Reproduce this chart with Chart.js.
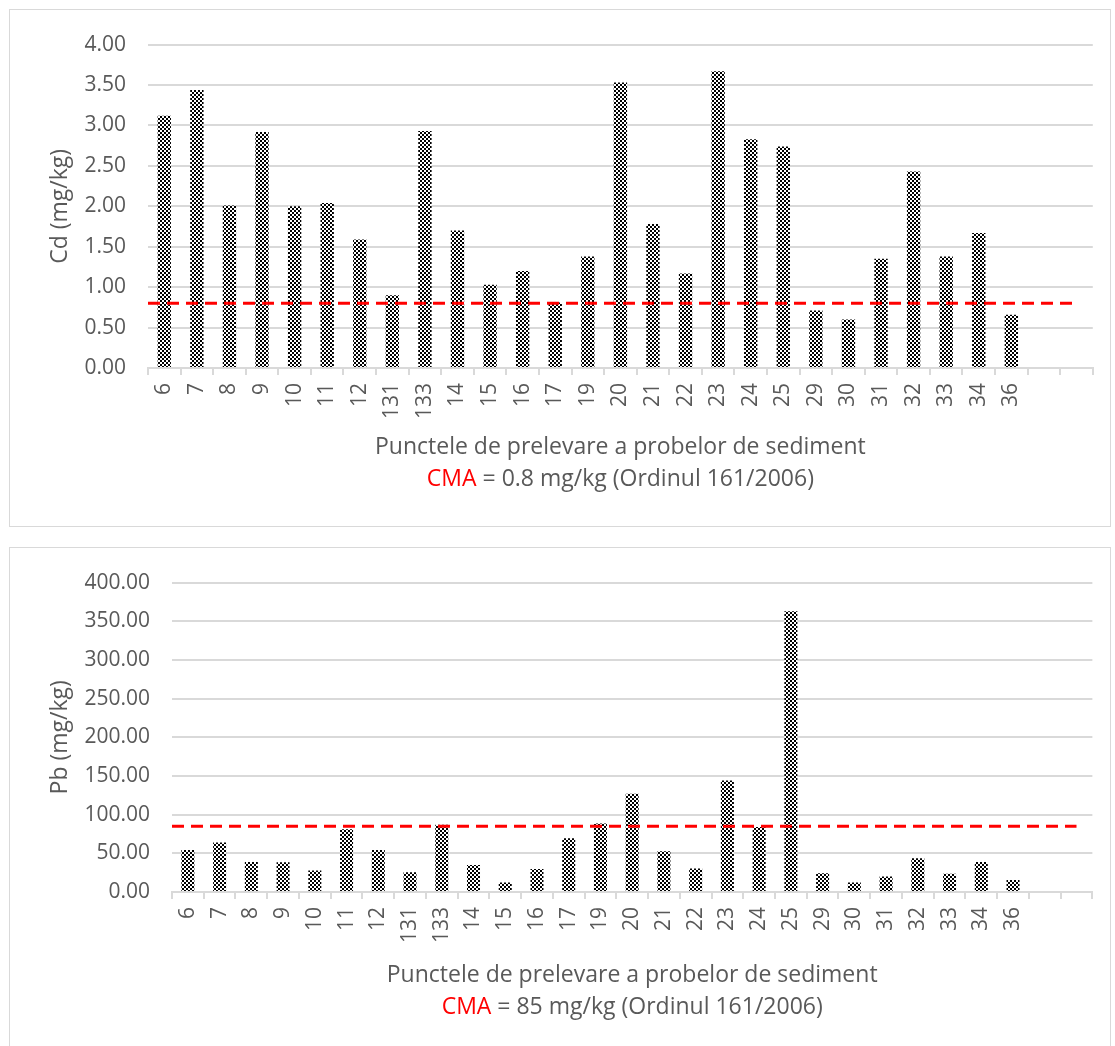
<!DOCTYPE html>
<html>
<head>
<meta charset="utf-8">
<script src="https://cdn.jsdelivr.net/npm/chart.js@4.4.1/dist/chart.umd.min.js"></script>
<style>
  body { margin: 0; background: #fff; font-family: "Open Sans", sans-serif; }
  .frame { position: absolute; left: 9px; width: 1102px; border: 1px solid #d9d9d9; box-sizing: border-box; }
  .frame canvas { position: absolute; left: 0; top: 0; }
  .xtitle { position: absolute; text-align: center; color: #595959; font-size: 23px; line-height: 32px; white-space: nowrap; }
  .red { color: #ff0000; }
</style>
</head>
<body>
<div class="frame" style="top:9px;height:518px">
  <canvas id="cdChart" width="1100" height="516"></canvas>
  <div class="xtitle" id="cdTitle">Punctele de prelevare a probelor de sediment<br><span class="red">CMA</span> = 0.8 mg/kg (Ordinul 161/2006)</div>
</div>
<div class="frame" style="top:547px;height:510px">
  <canvas id="pbChart" width="1100" height="498"></canvas>
  <div class="xtitle" id="pbTitle">Punctele de prelevare a probelor de sediment<br><span class="red">CMA</span> = 85 mg/kg (Ordinul 161/2006)</div>
</div>
<script>
// sampling points (last two slots are empty in the original sheet)
const sites = ['6','7','8','9','10','11','12','131','133','14','15','16','17','19','20','21','22','23','24','25','29','30','31','32','33','34','36','',''];
const cdValues = [3.12,3.44,2.01,2.92,2.00,2.04,1.59,0.90,2.93,1.70,1.03,1.20,0.81,1.38,3.53,1.78,1.17,3.67,2.83,2.74,0.71,0.60,1.35,2.43,1.38,1.67,0.66];
const pbValues = [54.3,63.9,38.7,38.3,27.8,81.2,54.3,25.6,87.1,34.9,12.2,29.8,69.5,88.4,127.1,52.6,30.3,144.0,84.0,362.9,24.4,12.2,20.2,43.7,23.6,38.7,15.5];
const cmaCd = 0.8;
const cmaPb = 85;

Chart.defaults.font.family = '"Open Sans", sans-serif';
Chart.defaults.color = '#595959';

// dashed CMA limit: from the start of the axis to the centre of the last slot
const cmaLine = {
    id: 'cmaLine',
    afterDatasetsDraw(chart, args, opts){
        let {ctx, chartArea, scales} = chart;
        let y = scales.y.getPixelForValue(opts.value);
        let xEnd = scales.x.getPixelForValue(sites.length - 1);
        ctx.save();
        ctx.beginPath();
        ctx.rect(chartArea.left, chartArea.top, chartArea.right - chartArea.left, chartArea.bottom - chartArea.top);
        ctx.clip();
        ctx.strokeStyle = '#ff0000';
        ctx.lineWidth = 3;
        ctx.setLineDash([12,7]);
        ctx.beginPath();
        ctx.moveTo(chartArea.left, y);
        ctx.lineTo(xEnd, y);
        ctx.stroke();
        ctx.restore();
    }
};

function checker(){
    let c = document.createElement('canvas');
    c.width = 4; c.height = 4;
    let g = c.getContext('2d');
    g.fillStyle = '#fff';
    g.fillRect(0,0,4,4);
    g.fillStyle = '#000';
    g.fillRect(0,0,2,2);
    g.fillRect(2,2,2,2);
    return g.createPattern(c,'repeat');
}

function makeChart(id, values, cma, yMax, yStep, yLabel, yWidth, xHeight, padTop){
    return new Chart(document.getElementById(id), {
        type: 'bar',
        data: {
            labels: sites,
            datasets: [{
                data: values,
                backgroundColor: checker(),
                borderWidth: 0,
                categoryPercentage: 1,
                barPercentage: 0.41
            }]
        },
        plugins: [cmaLine],
        options: {
            responsive: false,
            animation: false,
            layout: { padding: { top: padTop, right: 17, left: 0, bottom: 0 } },
            plugins: { legend: { display: false }, tooltip: { enabled: false }, cmaLine: { value: cma } },
            scales: {
                x: {
                    grid: { offset: true, drawOnChartArea: false, color: '#d9d9d9', lineWidth: 2, tickLength: 7 },
                    border: { color: '#d9d9d9', width: 2 },
                    ticks: { font: { size: 21 }, minRotation: 90, maxRotation: 90, autoSkip: false, padding: 8 },
                    afterFit: (s)=>{ s.height = xHeight; }
                },
                y: {
                    min: 0, max: yMax,
                    ticks: { stepSize: yStep, font: { size: 21 }, padding: 22, callback: (v)=>v.toFixed(2) },
                    grid: { color: '#d9d9d9', lineWidth: 2, drawTicks: false },
                    border: { display: false },
                    title: { display: true, text: yLabel, font: { size: 23 }, padding: { top: 37, bottom: 0 } },
                    afterFit: (s)=>{ s.width = yWidth; }
                }
            }
        }
    });
}

function placeTitle(chart, id, top){
    let el = document.getElementById(id);
    let a = chart.chartArea;
    el.style.left = a.left + 'px';
    el.style.width = (a.right - a.left) + 'px';
    el.style.top = top + 'px';
}

let cdChart = makeChart('cdChart', cdValues, cmaCd, 4, 0.5, 'Cd (mg/kg)', 138, 158, 27);
let pbChart = makeChart('pbChart', pbValues, cmaPb, 400, 50, 'Pb (mg/kg)', 162, 154, 28);
placeTitle(cdChart, 'cdTitle', 419);
placeTitle(pbChart, 'pbTitle', 409);
</script>
</body>
</html>
